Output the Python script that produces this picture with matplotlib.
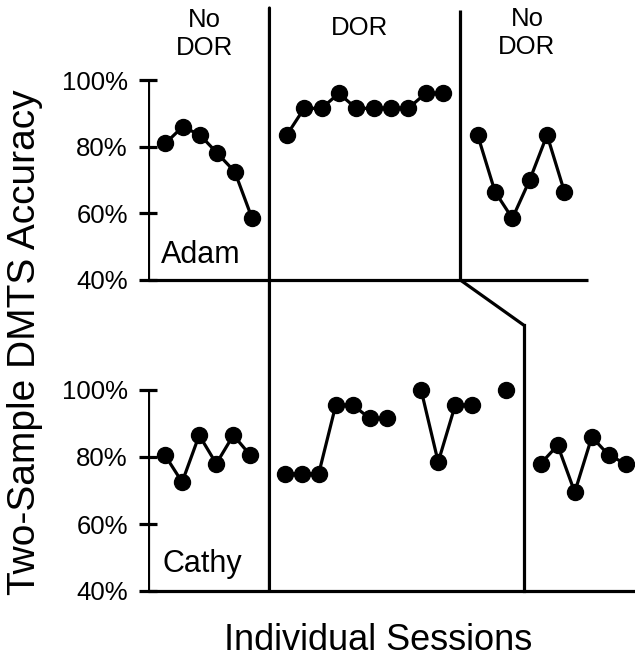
import numpy as np
import matplotlib
matplotlib.use("Agg")
import matplotlib.pyplot as plt
from matplotlib.patches import ConnectionPatch
from matplotlib.transforms import blended_transform_factory

plt.rcParams['font.family'] = ['Liberation Sans', 'DejaVu Sans']

nan = np.nan

# Adam: session numbers and accuracy (%) for each phase
adam_s1 = [1, 2, 3, 4, 5, 6]
adam_v1 = [81, 86, 83.5, 78, 72.5, 58.5]
adam_s2 = [8, 9, 10, 11, 12, 13, 14, 15, 16, 17]
adam_v2 = [83.5, 91.5, 91.5, 96, 91.5, 91.5, 91.5, 91.5, 96, 96]
adam_s3 = [19, 20, 21, 22, 23, 24]
adam_v3 = [83.5, 66.5, 58.5, 70, 83.5, 66.5]
adam_breaks = [7, 18]

# Cathy (missing sessions left as gaps)
cathy_s1 = [1, 2, 3, 4, 5, 6]
cathy_v1 = [80.5, 72.5, 86.5, 78, 86.5, 80.5]
cathy_s2 = [8, 9, 10, 11, 12, 13, 14, 15, 16, 17, 18, 19, 20, 21]
cathy_v2 = [75, 75, 75, 95.5, 95.5, 91.5, 91.5, nan, 100, 78.5, 95.5, 95.5, nan, 100]
cathy_s3 = [23, 24, 25, 26, 27, 28]
cathy_v3 = [78, 83.5, 69.5, 86, 80.5, 78]
cathy_breaks = [7, 22]

yticks = [40, 60, 80, 100]
ytick_labels = ['40%', '60%', '80%', '100%']

LW = 2.3
W, H = 635, 661

fig = plt.figure(figsize=(W / 100, H / 100), dpi=100)

def px_box(left, top, right, bottom):
    return [left / W, 1 - bottom / H, (right - left) / W, (bottom - top) / H]

ax1 = fig.add_axes(px_box(148, 8, 635, 280))
ax2 = fig.add_axes(px_box(148, 280, 635, 591))
ax1.set_xlim(0, 487 / 17.35)
ax1.set_ylim(40, 40 + 272 / 3.333)
ax2.set_xlim(0, 487 / 17.07)
ax2.set_ylim(40, 40 + 311 / 3.35)

for ax in (ax1, ax2):
    for sp in ax.spines.values():
        sp.set_visible(False)
    ax.patch.set_visible(False)
    ax.set_xticks([])
    ax.set_yticks(yticks)
    ax.set_yticklabels(ytick_labels)
    ax.tick_params(axis='y', direction='inout', length=13, width=LW,
                   labelsize=18.5, pad=8)
    ax.plot([0, 0], [40, 100], color='black', lw=LW, solid_capstyle='butt')

def series(ax, s, v):
    ax.plot(s, v, color='black', lw=LW, marker='o', markersize=11.5,
            clip_on=False, zorder=3)

series(ax1, adam_s1, adam_v1)
series(ax1, adam_s2, adam_v2)
series(ax1, adam_s3, adam_v3)
series(ax2, cathy_s1, cathy_v1)
series(ax2, cathy_s2, cathy_v2)
series(ax2, cathy_s3, cathy_v3)

# baselines
ax1.plot([0, 25.36], [40, 40], color='black', lw=LW, clip_on=False,
         solid_capstyle='butt')
ax2.plot([0, 28.6], [40, 40], color='black', lw=LW, clip_on=False,
         solid_capstyle='butt')

# phase change lines
top1 = 40 + 270 / 3.333
ax1.plot([adam_breaks[1]] * 2, [40, top1], color='black', lw=LW,
         clip_on=False, solid_capstyle='butt')
# first change runs straight down through both panels
through = blended_transform_factory(ax1.transData, ax2.transData)
con = ConnectionPatch(xyA=(adam_breaks[0], 40 + 272 / 3.333), coordsA=ax1.transData,
                      xyB=(adam_breaks[0], 40), coordsB=through,
                      color='black', lw=LW)
fig.add_artist(con)
step_y = 40 + (591 - 325) / 3.35
con2 = ConnectionPatch(xyA=(adam_breaks[1], 40), coordsA=ax1.transData,
                       xyB=(cathy_breaks[1], step_y), coordsB=ax2.transData,
                       color='black', lw=LW, joinstyle='miter')
fig.add_artist(con2)
ax2.plot([cathy_breaks[1]] * 2, [40, step_y], color='black', lw=LW,
         clip_on=False, solid_capstyle='projecting')

# names
fig.text(161 / W, 1 - 263 / H, 'Adam', fontsize=22, ha='left', va='baseline')
fig.text(162 / W, 1 - 572 / H, 'Cathy', fontsize=22, ha='left', va='baseline')

# phase titles
fig.text(204.5 / W, 1 - 34 / H, 'No\nDOR', fontsize=18.5, ha='center',
         va='center', linespacing=1.25)
fig.text(359.5 / W, 1 - 28 / H, 'DOR', fontsize=18.5, ha='center', va='center')
fig.text(527 / W, 1 - 33 / H, 'No\nDOR', fontsize=18.5, ha='center',
         va='center', linespacing=1.25)

fig.text(25 / W, 1 - 342 / H, 'Two-Sample DMTS Accuracy', fontsize=28,
         rotation=90, ha='center', va='center')
fig.text(378 / W, 1 - 640 / H, 'Individual Sessions', fontsize=26,
         ha='center', va='center')

fig.savefig('out.png', dpi=100)
